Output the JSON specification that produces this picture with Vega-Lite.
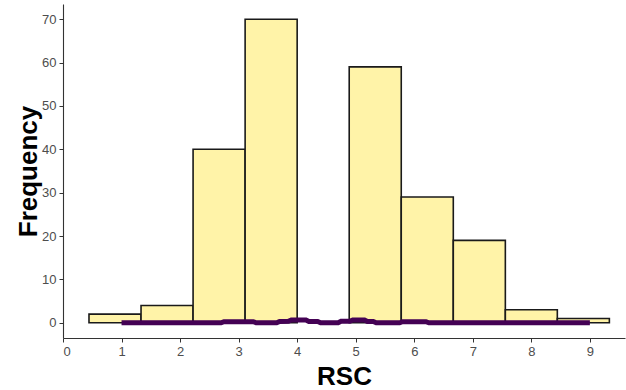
{
  "$schema": "https://vega.github.io/schema/vega-lite/v6.json",
  "width": 562,
  "height": 334,
  "autosize": {"type": "none"},
  "padding": {"left": 63, "top": 4, "right": 1, "bottom": 52},
  "background": "white",
  "config": {"view": {"stroke": null}, "font": "Liberation Sans"},
  "datasets": {
    "bars": [
      {"start": 0.444, "end": 1.333, "count": 2},
      {"start": 1.333, "end": 2.222, "count": 4},
      {"start": 2.222, "end": 3.111, "count": 40},
      {"start": 3.111, "end": 4.0, "count": 70},
      {"start": 4.889, "end": 5.778, "count": 59},
      {"start": 5.778, "end": 6.667, "count": 29},
      {"start": 6.667, "end": 7.556, "count": 19},
      {"start": 7.556, "end": 8.444, "count": 3},
      {"start": 8.444, "end": 9.333, "count": 1}
    ],
    "dens": [
      {"x": 1.0, "y": 0}, {"x": 2.7, "y": 0}, {"x": 2.75, "y": 0.25}, {"x": 3.25, "y": 0.25},
      {"x": 3.3, "y": 0}, {"x": 3.65, "y": 0}, {"x": 3.7, "y": 0.3}, {"x": 3.85, "y": 0.35},
      {"x": 3.9, "y": 0.65}, {"x": 4.15, "y": 0.65}, {"x": 4.2, "y": 0.3}, {"x": 4.35, "y": 0.3},
      {"x": 4.4, "y": 0}, {"x": 4.7, "y": 0}, {"x": 4.75, "y": 0.35}, {"x": 4.9, "y": 0.35},
      {"x": 4.95, "y": 0.65}, {"x": 5.15, "y": 0.65}, {"x": 5.2, "y": 0.3}, {"x": 5.3, "y": 0.3},
      {"x": 5.35, "y": 0}, {"x": 5.75, "y": 0}, {"x": 5.8, "y": 0.25}, {"x": 6.2, "y": 0.25},
      {"x": 6.25, "y": 0}, {"x": 9.0, "y": 0}
    ]
  },
  "layer": [
    {
      "data": {"name": "bars"},
      "mark": {"type": "bar", "fill": "#FFF3A8", "stroke": "#1a1a1a", "strokeWidth": 1.6},
      "encoding": {
        "x": {
          "field": "start", "type": "quantitative",
          "scale": {"domain": [0, 9.6], "nice": false, "zero": false},
          "axis": {
            "title": "RSC", "values": [0,1,2,3,4,5,6,7,8,9], "format": "d", "grid": false,
            "domainColor": "#333333", "domainWidth": 1.1, "tickColor": "#333333", "tickSize": 4,
            "labelColor": "#4D4D4D", "labelFontSize": 13, "labelFont": "Liberation Sans", "labelPadding": 3,
            "titleFontSize": 26, "titleFontWeight": "bold", "titleColor": "#000000", "titlePadding": 5, "titleFont": "Liberation Sans"
          }
        },
        "x2": {"field": "end"},
        "y": {
          "field": "count", "type": "quantitative",
          "scale": {"domain": [-3.5, 73.5], "nice": false, "zero": false},
          "axis": {
            "title": "Frequency", "values": [0,10,20,30,40,50,60,70], "format": "d", "grid": false,
            "domainColor": "#333333", "domainWidth": 1.1, "tickColor": "#333333", "tickSize": 4,
            "labelColor": "#4D4D4D", "labelFontSize": 13, "labelFont": "Liberation Sans", "labelPadding": 3,
            "titleFontSize": 26, "titleFontWeight": "bold", "titleColor": "#000000", "titleX": -22, "titleFont": "Liberation Sans"
          }
        },
        "y2": {"datum": 0}
      }
    },
    {
      "data": {"name": "dens"},
      "mark": {"type": "line", "color": "#440154", "strokeWidth": 5, "strokeJoin": "miter"},
      "encoding": {
        "x": {"field": "x", "type": "quantitative"},
        "y": {"field": "y", "type": "quantitative"}
      }
    }
  ]
}
